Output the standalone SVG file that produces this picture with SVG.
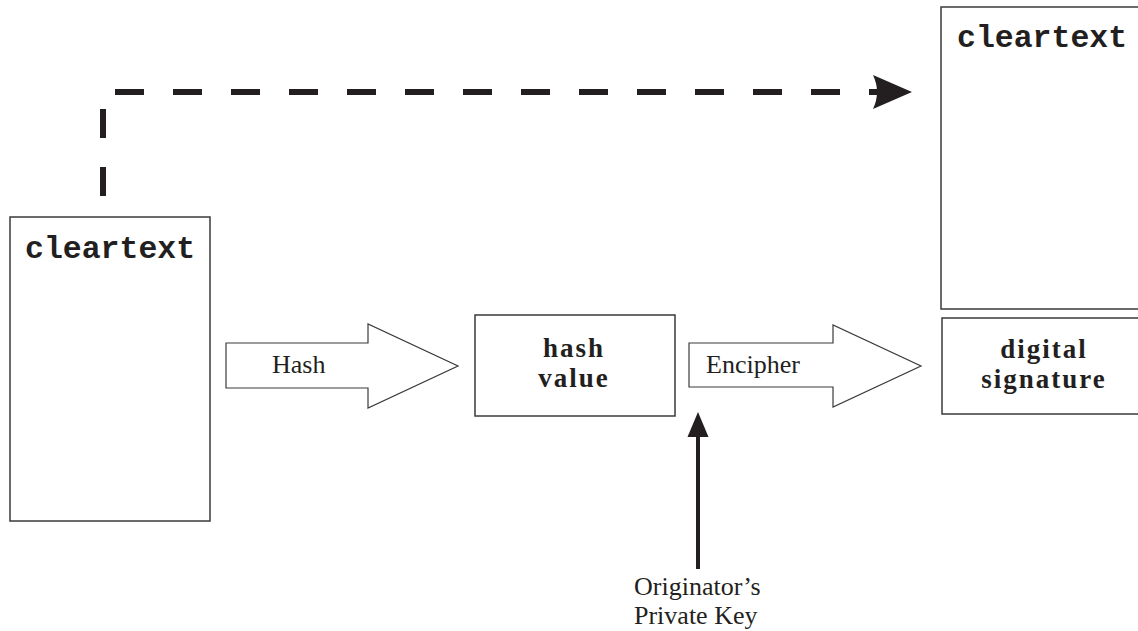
<svg xmlns="http://www.w3.org/2000/svg" width="1138" height="631" viewBox="0 0 1138 631">
<style>
.box{fill:#fff;stroke:#3a3a3a;stroke-width:1.5}
.fat{fill:#fff;stroke:#3a3a3a;stroke-width:1.2}
.mono{font-family:"Liberation Mono","Courier New",monospace;font-weight:bold;font-size:31.5px;fill:#231f20}
.serif{font-family:"Liberation Serif","Times New Roman",serif;font-size:26px;fill:#231f20}
.black{font-family:"Liberation Serif","Times New Roman",serif;font-weight:bold;font-size:27px;letter-spacing:2px;fill:#231f20;text-anchor:middle}
.dash{fill:none;stroke:#231f20;stroke-width:6;stroke-dasharray:29 29}
.line{fill:none;stroke:#231f20;stroke-width:4}
.head{fill:#231f20}
</style>
<rect width="1138" height="631" fill="#fff"/>
<g id="cleartext-left">
<rect class="box" x="10" y="217" width="200" height="304"/>
<text class="mono" x="25" y="258">cleartext</text>
</g>
<g id="cleartext-right">
<rect class="box" x="941" y="7" width="205" height="302"/>
<text class="mono" x="957" y="47">cleartext</text>
</g>
<g id="hash-arrow">
<polygon class="fat" points="226,343 368,343 368,324 458,366 368,408 368,388 226,388"/>
<text class="serif" x="272" y="373">Hash</text>
</g>
<g id="hash-value">
<rect class="box" x="475" y="315" width="200" height="101"/>
<text class="black" x="574" y="357">hash</text>
<text class="black" x="574" y="387">value</text>
</g>
<g id="encipher-arrow">
<polygon class="fat" points="689,343 833,343 833,325 921,366 833,407 833,387 689,387"/>
<text class="serif" x="706" y="373">Encipher</text>
</g>
<g id="digital-signature">
<rect class="box" x="942" y="318" width="205" height="96"/>
<text class="black" x="1044" y="358">digital</text>
<text class="black" x="1044" y="388">signature</text>
</g>
<g id="private-key">
<text class="serif" x="634" y="595">Originator’s</text>
<text class="serif" x="634" y="624">Private Key</text>
</g>
<g id="connectors">
<path class="dash" d="M103,196 V92 H885"/>
<path class="head" d="M912,92 L873,75 Q881,92 873,109 Z"/>
<path class="line" d="M698,569 V432"/>
<path class="head" d="M698,412 L708.5,437 L687.5,437 Z"/>
</g>
</svg>
